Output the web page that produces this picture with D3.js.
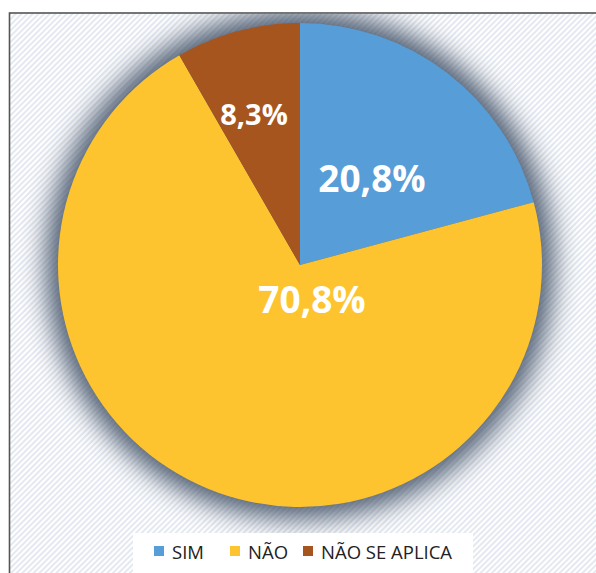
<!DOCTYPE html>
<html><head><meta charset="utf-8">
<script src="https://cdn.jsdelivr.net/npm/d3@7"></script>
<style>body{margin:0;background:#fff;}svg{display:block;}</style>
</head><body>
<script>
const categories = ["SIM", "NÃO", "NÃO SE APLICA"];
const values = [20.8, 70.8, 8.3];
const labels = ["20,8%", "70,8%", "8,3%"];
const colors = ["#579dd7", "#fec42f", "#a6551f"];

const W = 596, H = 573;
const svg = d3.select("body").append("svg").attr("width", W).attr("height", H);
const defs = svg.append("defs");
const pat = defs.append("pattern").attr("id", "stripes").attr("patternUnits", "userSpaceOnUse")
  .attr("width", 4).attr("height", 4).attr("patternTransform", "rotate(45)");
pat.append("rect").attr("width", 4).attr("height", 4).attr("fill", "#ffffff");
pat.append("rect").attr("width", 2).attr("height", 4).attr("fill", "#e4e8f0");
const blur = defs.append("filter").attr("id", "glow").attr("x", "-30%").attr("y", "-30%").attr("width", "160%").attr("height", "160%");
blur.append("feGaussianBlur").attr("stdDeviation", 13);
defs.append("clipPath").attr("id", "frameClip").append("rect")
  .attr("x", 10).attr("y", 14).attr("width", W).attr("height", H);

svg.append("rect").attr("x", 9.5).attr("y", 13).attr("width", W + 10).attr("height", H + 10)
  .attr("fill", "url(#stripes)");

const cx = 300, cy = 265, r = 242;
svg.append("g").attr("clip-path", "url(#frameClip)")
  .append("circle").attr("cx", cx).attr("cy", cy).attr("r", r + 12)
  .attr("fill", "#46566c").attr("opacity", 0.95).attr("filter", "url(#glow)");

svg.append("rect").attr("x", 9.5).attr("y", 13).attr("width", W + 10).attr("height", H + 10)
  .attr("fill", "none").attr("stroke", "#555").attr("stroke-width", 1.6);

const pie = d3.pie().sort(null).value(d => d)(values);
const arc = d3.arc().innerRadius(0).outerRadius(r);
const g = svg.append("g").attr("transform", `translate(${cx},${cy})`);
g.selectAll("path").data(pie).join("path").attr("d", arc).attr("fill", (d, i) => colors[i]);

const labelPos = [[72, -73], [12, 48], [-46, -140]];
const sizes = [37, 37, 29];
g.selectAll("text.lbl").data(pie).join("text").attr("class", "lbl")
  .attr("x", (d, i) => labelPos[i][0]).attr("y", (d, i) => labelPos[i][1])
  .attr("text-anchor", "middle").attr("fill", "#fff")
  .attr("font-family", "Open Sans, sans-serif").attr("font-weight", 700)
  .attr("font-size", (d, i) => sizes[i]).text((d, i) => labels[i]);

// legend
svg.append("rect").attr("x", 133).attr("y", 533).attr("width", 340).attr("height", 45).attr("fill", "#fff");
const legX = [154, 230, 303];
const lg = svg.append("g");
categories.forEach((c, i) => {
  lg.append("rect").attr("x", legX[i]).attr("y", 546).attr("width", 10).attr("height", 10).attr("fill", colors[i]);
  lg.append("text").attr("x", legX[i] + 18).attr("y", 559).attr("font-family", "Open Sans, sans-serif")
    .attr("font-size", 18.5).attr("fill", "#222").text(c);
});
</script>
</body></html>
